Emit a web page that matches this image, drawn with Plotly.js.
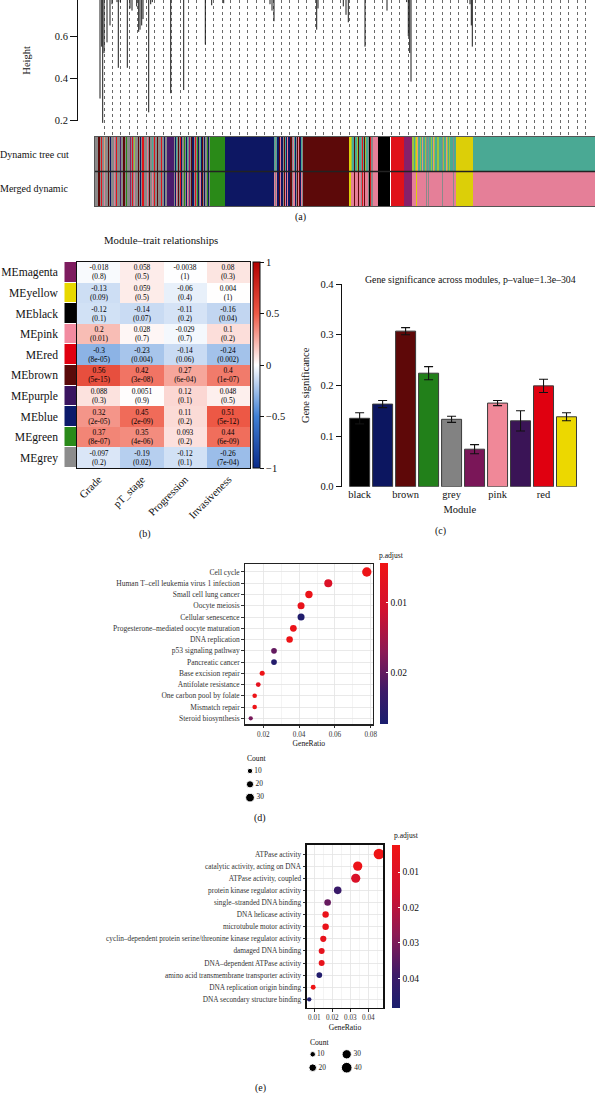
<!DOCTYPE html>
<html><head><meta charset="utf-8">
<script src="https://cdn.plot.ly/plotly-3.0.1.min.js"></script>
<style>html,body{margin:0;padding:0;background:#fff}#chart{width:595px;height:1093px}</style>
</head><body><div id="chart"></div>
<script>
// ================= DATA =================
// (a) dendrogram leaves (gene-order fraction) and merge heights visible in the crop
const dendroLeafPos = [0.010,0.0134,0.0154,0.018,0.024,0.030,0.034,0.044,0.0466,0.0506,0.0646,0.070,0.074,0.0834,0.0874,0.090,0.0934,0.096,0.1074,0.1114,0.1146,0.1514,0.1774,0.2206,0.2334,0.2574,0.350,0.354,0.358,0.4434,0.446,0.4966,0.502,0.5066,0.540,0.584,0.6234,0.6266,0.6294,0.632,0.750,0.7526,0.7546];
const dendroLeafHeight = [0.305,0.55,0.19,0.52,0.57,0.65,0.75,0.76,0.45,0.76,0.45,0.73,0.72,0.74,0.62,0.63,0.65,0.68,0.24,0.75,0.76,0.33,0.345,0.56,0.745,0.755,0.75,0.72,0.67,0.63,0.73,0.74,0.70,0.665,0.55,0.72,0.76,0.6,0.52,0.385,0.75,0.65,0.55];
const heightTicks = [0.2,0.4,0.6];
// module code letters per gene (dendrogram order), Dynamic tree cut
const moduleCodeNames = {g:'grey',b:'brown',r:'red',u:'blue',n:'green',p:'pink',m:'magenta',k:'black',y:'yellow',t:'turquoise',l:'purple',e:'greenyellow',s:'salmon',w:'white'};
const dynamicTreeCutRuns = [
  ['gggbbgrggsgggbgugggpgrggglggbbgngggmgrgegggbgugrrgggpgbggtgrggbgggrggugglllllllgutgbgruggngutgmgbuugrgnugtubguggnug',1],
  ['n',15],['u',49],
  ['tgtuubpuugbtupuubbgptugbpbutgbb',1],
  ['b',43],
  ['yyettbttebttgrtbettgkrgg',1],
  ['p',5],['k',12],['w',1],['r',13],['m',8],
  ['eeteysttetsttegtgttetsetteetttgettsetetttgtt',1],
  ['y',17],['t',122]
];
const mergedMap = {t:'p', e:'p', s:'p'};

// (b) module-trait relationships
const traits = ['Grade','pT_stage','Progression','Invasiveness'];
const moduleEigengenes = ['MEmagenta','MEyellow','MEblack','MEpink','MEred','MEbrown','MEpurple','MEblue','MEgreen','MEgrey'];
const meModules = ['magenta','yellow','black','pink','red','brown','purple','blue','green','grey'];
const corValues = [
  [-0.018, 0.058, -0.0038, 0.08],
  [-0.13, 0.059, -0.06, 0.004],
  [-0.12, -0.14, -0.11, -0.16],
  [0.2, 0.028, -0.029, 0.1],
  [-0.3, -0.23, -0.14, -0.24],
  [0.56, 0.42, 0.27, 0.4],
  [0.088, 0.0051, 0.12, 0.048],
  [0.32, 0.45, 0.11, 0.51],
  [0.37, 0.35, 0.093, 0.44],
  [-0.097, -0.19, -0.12, -0.26]
];
const corPValues = [
  ['0.8','0.5','1','0.3'],
  ['0.09','0.5','0.4','1'],
  ['0.1','0.07','0.2','0.04'],
  ['0.01','0.7','0.7','0.2'],
  ['8e-05','0.004','0.06','0.002'],
  ['5e-15','3e-08','6e-04','1e-07'],
  ['0.3','0.9','0.1','0.5'],
  ['2e-05','2e-09','0.2','5e-12'],
  ['8e-07','4e-06','0.2','6e-09'],
  ['0.2','0.02','0.1','7e-04']
];
const corTicks = [-1,-0.5,0,0.5,1];
const corTickText = ['\u22121','\u22120.5','0','0.5','1'];

// (c) gene significance
const gsModules = ['black','blue','brown','green','grey','magenta','pink','purple','red','yellow'];
const gsMean = [0.135,0.163,0.307,0.224,0.133,0.074,0.165,0.130,0.199,0.138];
const gsErr  = [0.011,0.007,0.007,0.013,0.006,0.009,0.005,0.020,0.013,0.008];
const gsTickModules = ['black','brown','grey','pink','red'];
const gsYTicks = [0,0.1,0.2,0.3,0.4];

// (d) KEGG
const keggTerms = ['Cell cycle','Human T\u2013cell leukemia virus 1 infection','Small cell lung cancer','Oocyte meiosis','Cellular senescence','Progesterone\u2013mediated oocyte maturation','DNA replication','p53 signaling pathway','Pancreatic cancer','Base excision repair','Antifolate resistance','One carbon pool by folate','Mismatch repair','Steroid biosynthesis'];
const keggGeneRatio = [0.0778,0.0563,0.0455,0.0411,0.0411,0.0368,0.0347,0.0260,0.0260,0.0194,0.0172,0.0152,0.0152,0.0130];
const keggCount = [35,25,21,19,19,17,16,12,12,9,8,7,7,6];
const keggPadj = [0.005,0.009,0.0055,0.006,0.0265,0.0055,0.005,0.020,0.026,0.005,0.007,0.005,0.005,0.0185];
const keggCountLegend = [10,20,30];
const keggPadjTicks = [0.01,0.02];

// (e) GO
const goTerms = ['ATPase activity','catalytic activity, acting on DNA','ATPase activity, coupled','protein kinase regulator activity','single\u2013stranded DNA binding','DNA helicase activity','microtubule motor activity','cyclin\u2013dependent protein serine/threonine kinase regulator activity','damaged DNA binding','DNA\u2013dependent ATPase activity','amino acid transmembrane transporter activity','DNA replication origin binding','DNA secondary structure binding'];
const goGeneRatio = [0.0459,0.0341,0.0330,0.0230,0.0174,0.0163,0.0163,0.0150,0.0141,0.0141,0.0128,0.0094,0.0072];
const goCount = [40,30,29,20,15,14,14,13,12,12,11,8,6];
const goPadj = [0.003,0.004,0.012,0.040,0.033,0.005,0.005,0.006,0.007,0.006,0.046,0.003,0.047];
const goCountLegend = [10,20,30,40];
const goPadjTicks = [0.01,0.02,0.03,0.04];

// ================= STYLE =================
const W = 595, H = 1093;
const px = v => v / W;
const py = v => 1 - v / H;
const FONT = 'Liberation Serif, Times New Roman, serif';
const moduleColors = {
  grey:'#8a8a8a', brown:'#5c0909', red:'#e0121a', blue:'#0d1763', green:'#2a8a18',
  pink:'#e57f98', magenta:'#87206a', black:'#000000', yellow:'#dccf08',
  turquoise:'#4aa994', purple:'#4a1c6c', greenyellow:'#9cc43e', salmon:'#e99a78', white:'#ffffff'
};
const meColors = {magenta:'#7d1c5f', yellow:'#e8d800', black:'#000000', pink:'#f28ba0', red:'#e00010',
  brown:'#5a0a0a', purple:'#3a1560', blue:'#0c1a6b', green:'#2a8a1a', grey:'#8c8c8c'};
const barColors = {black:'#000000', blue:'#0c1660', brown:'#5e0808', green:'#22801a', grey:'#828282',
  magenta:'#7a1658', pink:'#f08898', purple:'#3a1456', red:'#e00010', yellow:'#ecd800'};
const corScale = [[0,'#0b2b8a'],[0.25,'#3f80d4'],[0.5,'#ffffff'],[0.75,'#ee5a46'],[1,'#b30000']];
// p.adjust: low values red at the top of the bar, high values navy at the bottom
const padjScaleTopLow = [[0,'#1a1e6e'],[0.2,'#3c1a68'],[0.45,'#8c1a55'],[0.7,'#d01030'],[1,'#f01414']];
function discreteScale(cols){ const n = cols.length, s = []; cols.forEach((c,i)=>{ s.push([i/n,c]); s.push([(i+1)/n,c]); }); return s; }
const neg = v => -v;
const fmt2 = v => v.toFixed(2);

// ================= BUILD =================
const traces = [];

// (a) dendrogram
const dX = [], dY = [];
dendroLeafPos.forEach((p,i)=>{ dX.push(p,p,null); dY.push(dendroLeafHeight[i],0.9,null); });
traces.push({type:'scatter', mode:'lines', x:dX, y:dY, xaxis:'x', yaxis:'y', line:{color:'#1a1a1a', width:1}, hoverinfo:'skip', showlegend:false});
traces.push({type:'scatter', mode:'markers', x:[0.5], y:[0.5], xaxis:'x2', yaxis:'y2', marker:{opacity:0}, hoverinfo:'skip', showlegend:false});
const guideVals = []; for (let g = 0.018; g <= 1; g += 0.0169) guideVals.push(g);

// color bars
const codeList = Object.keys(moduleCodeNames);
const treeCutCodes = dynamicTreeCutRuns.map(([s,n]) => s.repeat(n)).join('').split('');
const mergedCodes = treeCutCodes.map(c => mergedMap[c] || c);
const idx = c => codeList.indexOf(c);
const cbScale = discreteScale(codeList.map(c => moduleColors[moduleCodeNames[c]]));
traces.push({type:'heatmap', z:[mergedCodes.map(idx), treeCutCodes.map(idx)], y:[0,1],
  x: treeCutCodes.map((c,i)=>i), colorscale:cbScale, zmin:-0.5, zmax:codeList.length-0.5,
  showscale:false, xaxis:'x3', yaxis:'y3', hoverinfo:'skip'});

// (b) heatmap
const cellText = corValues.map((row,r)=>row.map((v,c)=> String(v) + '<br>(' + corPValues[r][c] + ')'));
traces.push({type:'heatmap', z:corValues, x:traits, y:moduleEigengenes, text:cellText, texttemplate:'%{text}',
  textfont:{size:7.4, family:FONT, color:'#000'}, coloraxis:'coloraxis', xaxis:'x4', yaxis:'y4', hoverinfo:'skip'});
const meScale = discreteScale(meModules.map(m => meColors[m]));
traces.push({type:'heatmap', z:meModules.map((m,i)=>[i]), x:[0], y:moduleEigengenes, colorscale:meScale, ygap:1,
  zmin:-0.5, zmax:meModules.length-0.5, showscale:false, xaxis:'x5', yaxis:'y5', hoverinfo:'skip'});

// (c) bars
traces.push({type:'bar', x:gsModules, y:gsMean, width:0.87,
  marker:{color:gsModules.map(m=>barColors[m]), line:{color:'#3a3a3a', width:1}},
  error_y:{type:'data', array:gsErr, visible:true, color:'#111', thickness:1.1, width:4.5},
  xaxis:'x6', yaxis:'y6', hoverinfo:'skip', showlegend:false});

// (d) KEGG dots
const sizeD = c => Math.sqrt(4 + 2.4*c);
traces.push({type:'scatter', mode:'markers', x:keggGeneRatio, y:keggTerms,
  marker:{size:keggCount.map(sizeD), color:keggPadj.map(neg), coloraxis:'coloraxis2', opacity:1, line:{width:0}},
  xaxis:'x7', yaxis:'y7', hoverinfo:'skip', showlegend:false});
traces.push({type:'scatter', mode:'markers+text', x:keggCountLegend.map(()=>10), y:keggCountLegend.map((c,i)=>i),
  text:keggCountLegend.map(String), textposition:'middle right', textfont:{size:7.4, family:FONT, color:'#222'},
  marker:{size:keggCountLegend.map(sizeD), color:'#000', opacity:1}, xaxis:'x8', yaxis:'y8', hoverinfo:'skip', showlegend:false, cliponaxis:false});

// (e) GO dots
const sizeE = c => Math.sqrt(2 + 2.8*c);
traces.push({type:'scatter', mode:'markers', x:goGeneRatio, y:goTerms,
  marker:{size:goCount.map(sizeE), color:goPadj.map(neg), coloraxis:'coloraxis3', opacity:1, line:{width:0}},
  xaxis:'x9', yaxis:'y9', hoverinfo:'skip', showlegend:false});
traces.push({type:'scatter', mode:'markers+text', x:goCountLegend.map((c,i)=> i<2 ? 12.7 : 46.7), y:goCountLegend.map((c,i)=>i%2),
  text:goCountLegend.map(String), textposition:'middle right', textfont:{size:7.4, family:FONT, color:'#222'},
  marker:{size:goCountLegend.map(sizeE), color:'#000', opacity:1}, xaxis:'x10', yaxis:'y10', hoverinfo:'skip', showlegend:false, cliponaxis:false});

const hidden = {visible:true, showgrid:false, zeroline:false, showline:false, showticklabels:false, ticks:''};
const serif = (s, c) => ({family:FONT, size:s, color:c || '#111'});

const layout = {
  width:W, height:H, margin:{l:0,r:0,t:0,b:0,pad:0},
  paper_bgcolor:'#fff', plot_bgcolor:'rgba(0,0,0,0)', showlegend:false,
  font:{family:FONT, color:'#111'},
  // (a) dendrogram + guides
  xaxis:Object.assign({}, hidden, {domain:[px(78),1], range:[-0.034,1], anchor:'y',
     showgrid:true, tickmode:'array', tickvals:guideVals, gridcolor:'#444', griddash:'dot', gridwidth:0.8}),
  yaxis:Object.assign({}, hidden, {domain:[py(137),1], range:[0.1234,0.770], anchor:'x'}),
  xaxis2:Object.assign({}, hidden, {domain:[px(78),1], range:[-0.034,1], anchor:'y2'}),
  yaxis2:{domain:[py(120.7),1], range:[0.2,0.770], anchor:'x2', showline:true, linecolor:'#111', linewidth:1,
     ticks:'outside', ticklen:7, tickcolor:'#111', tickvals:heightTicks, tickformat:'.1f', showgrid:false, zeroline:false,
     tickfont:serif(10.5), title:{text:'Height', font:serif(10.5), standoff:22}},
  // color bars
  xaxis3:{domain:[px(95),1], range:[-0.5, treeCutCodes.length-0.5], anchor:'y3', showticklabels:false, ticks:'',
     showgrid:false, zeroline:false, showline:true, mirror:true, linecolor:'#555', linewidth:1},
  yaxis3:{domain:[py(206),py(137)], range:[-0.5,1.5], anchor:'x3', showticklabels:false, ticks:'', showgrid:false,
     zeroline:false, showline:true, mirror:true, linecolor:'#555', linewidth:1},
  // (b)
  xaxis4:{domain:[px(77),px(250)], anchor:'y4', type:'category', tickangle:-45, ticks:'', tickfont:serif(10.8),
     showline:true, mirror:true, linecolor:'#111', linewidth:1, showgrid:false, zeroline:false},
  yaxis4:{domain:[py(468),py(262)], anchor:'x4', type:'category', autorange:'reversed', showticklabels:false, ticks:'',
     showline:true, mirror:true, linecolor:'#111', linewidth:1, showgrid:false, zeroline:false},
  xaxis5:Object.assign({}, hidden, {domain:[px(64.3),px(76)], anchor:'y5'}),
  yaxis5:{domain:[py(468),py(262)], anchor:'x5', type:'category', autorange:'reversed', ticks:'outside', ticklen:3,
     tickcolor:'rgba(0,0,0,0)', showgrid:false, zeroline:false, showline:false, tickfont:serif(11.6)},
  coloraxis:{colorscale:corScale, cmin:-1, cmax:1, colorbar:{x:px(253), xanchor:'left', y:py(468), yanchor:'bottom',
     len:206/H, lenmode:'fraction', thickness:7, thicknessmode:'pixels', outlinewidth:1, outlinecolor:'#111',
     xpad:0, ypad:0, ticks:'outside', ticklen:4, tickcolor:'#111', tickmode:'array', tickvals:corTicks, ticktext:corTickText,
     tickfont:serif(10.5)}},
  // (c)
  xaxis6:{domain:[px(341.7),px(578)], anchor:'y6', type:'category', categoryarray:gsModules, categoryorder:'array',
     range:[-0.78,9.5], tickmode:'array', tickvals:gsTickModules, ticks:'', showline:false, showgrid:false, zeroline:false,
     tickfont:serif(10.5), title:{text:'Module', font:serif(10.5), standoff:6}},
  yaxis6:{domain:[py(486.7),py(284)], anchor:'x6', range:[0,0.4], tickmode:'array', tickvals:gsYTicks, tickformat:'.1f',
     showline:true, linecolor:'#111', linewidth:1, ticks:'outside', ticklen:5, tickcolor:'#111', showgrid:false, zeroline:false,
     tickfont:serif(10.5), title:{text:'Gene significance', font:serif(10.5), standoff:8}},
  // (d)
  xaxis7:{domain:[px(245),px(372.7)], anchor:'y7', range:[0.0098,0.0811], dtick:0.02, tick0:0, tickformat:'.2f',
     showgrid:true, gridcolor:'#e3e3e3', gridwidth:0.8, minor:{dtick:0.01, tick0:0, showgrid:true, gridcolor:'#ececec', gridwidth:0.6},
     showline:true, mirror:true, linecolor:'#222', linewidth:1.3, ticks:'outside', ticklen:2.5, tickcolor:'#333', zeroline:false,
     tickfont:serif(7.2,'#333'), title:{text:'GeneRatio', font:serif(7.6), standoff:3}},
  yaxis7:{domain:[py(724.3),py(564)], anchor:'x7', type:'category', categoryarray:keggTerms, categoryorder:'array',
     range:[13.53,-0.71], showgrid:true, gridcolor:'#e3e3e3', gridwidth:0.8, showline:true, mirror:true, linecolor:'#222', linewidth:1.3,
     ticks:'outside', ticklen:2.5, tickcolor:'#333', zeroline:false, tickfont:serif(7.5,'#333')},
  xaxis8:Object.assign({}, hidden, {domain:[px(240),px(300)], range:[0,60], anchor:'y8'}),
  yaxis8:Object.assign({}, hidden, {domain:[py(804.3),py(764.3)], range:[2.5,-0.5], anchor:'x8'}),
  coloraxis2:{colorscale:padjScaleTopLow, cmin:-0.0274, cmax:-0.00437, colorbar:{x:px(380), xanchor:'left', y:py(724.3), yanchor:'bottom',
     len:161/H, lenmode:'fraction', thickness:8.3, thicknessmode:'pixels', outlinewidth:0, xpad:0, ypad:0,
     ticks:'inside', ticklen:2, tickcolor:'#fff', tickmode:'array', tickvals:keggPadjTicks.map(neg), ticktext:keggPadjTicks.map(fmt2), tickfont:serif(9.5)}},
  // (e)
  xaxis9:{domain:[px(306.7),px(383.3)], anchor:'y9', range:[0.0058,0.0483], dtick:0.01, tick0:0, tickformat:'.2f',
     showgrid:true, gridcolor:'#e3e3e3', gridwidth:0.8, minor:{dtick:0.005, tick0:0, showgrid:true, gridcolor:'#ececec', gridwidth:0.6},
     showline:true, mirror:true, linecolor:'#111', linewidth:1.6, ticks:'outside', ticklen:2.5, tickcolor:'#333', zeroline:false,
     tickfont:serif(7.2,'#333'), title:{text:'GeneRatio', font:serif(7.6), standoff:3}},
  yaxis9:{domain:[py(1007.7),py(845)], anchor:'x9', type:'category', categoryarray:goTerms, categoryorder:'array',
     range:[12.69,-0.744], showgrid:true, gridcolor:'#e3e3e3', gridwidth:0.8, showline:true, mirror:true, linecolor:'#111', linewidth:1.6,
     ticks:'outside', ticklen:2.5, tickcolor:'#333', zeroline:false, tickfont:serif(7.3,'#333')},
  xaxis10:Object.assign({}, hidden, {domain:[px(300),px(370)], range:[0,70], anchor:'y10'}),
  yaxis10:Object.assign({}, hidden, {domain:[py(1074.4),py(1047.6)], range:[1.5,-0.5], anchor:'x10'}),
  coloraxis3:{colorscale:padjScaleTopLow, cmin:-0.0483, cmax:-0.00227, colorbar:{x:px(391.7), xanchor:'left', y:py(1007.7), yanchor:'bottom',
     len:162.7/H, lenmode:'fraction', thickness:7.6, thicknessmode:'pixels', outlinewidth:0, xpad:0, ypad:0,
     ticks:'inside', ticklen:2, tickcolor:'#fff', tickmode:'array', tickvals:goPadjTicks.map(neg), ticktext:goPadjTicks.map(fmt2), tickfont:serif(9.5)}},
  shapes:[
    {type:'line', xref:'x3 domain', yref:'y3', x0:0, x1:1, y0:0.5, y1:0.5, line:{color:'#222', width:1.3}}
  ],
  annotations:[
    {text:'Dynamic tree cut', x:px(34), y:py(154), xref:'paper', yref:'paper', showarrow:false, xanchor:'center', yanchor:'middle', font:serif(10)},
    {text:'Merged dynamic', x:px(34), y:py(188.5), xref:'paper', yref:'paper', showarrow:false, xanchor:'center', yanchor:'middle', font:serif(10)},
    {text:'(a)', x:px(300), y:py(217), xref:'paper', yref:'paper', showarrow:false, xanchor:'center', yanchor:'middle', font:serif(10)},
    {text:'Module\u2013trait relationships', x:px(161), y:py(240), xref:'paper', yref:'paper', showarrow:false, xanchor:'center', yanchor:'middle', font:serif(10.8)},
    {text:'(b)', x:px(145), y:py(534), xref:'paper', yref:'paper', showarrow:false, xanchor:'center', yanchor:'middle', font:serif(10)},
    {text:'Gene significance across modules, p\u2013value=1.3e\u2013304', x:px(470), y:py(279), xref:'paper', yref:'paper', showarrow:false, xanchor:'center', yanchor:'middle', font:serif(9.8)},
    {text:'(c)', x:px(440), y:py(531), xref:'paper', yref:'paper', showarrow:false, xanchor:'center', yanchor:'middle', font:serif(10)},
    {text:'p.adjust', x:px(377), y:py(555), xref:'paper', yref:'paper', showarrow:false, xanchor:'left', yanchor:'middle', font:serif(7.6)},
    {text:'Count', x:px(245), y:py(758.3), xref:'paper', yref:'paper', showarrow:false, xanchor:'left', yanchor:'middle', font:serif(7.6)},
    {text:'(d)', x:px(260), y:py(817.7), xref:'paper', yref:'paper', showarrow:false, xanchor:'center', yanchor:'middle', font:serif(10)},
    {text:'p.adjust', x:px(392), y:py(835.7), xref:'paper', yref:'paper', showarrow:false, xanchor:'left', yanchor:'middle', font:serif(7.6)},
    {text:'Count', x:px(308), y:py(1042.3), xref:'paper', yref:'paper', showarrow:false, xanchor:'left', yanchor:'middle', font:serif(7.6)},
    {text:'(e)', x:px(260), y:py(1087.7), xref:'paper', yref:'paper', showarrow:false, xanchor:'center', yanchor:'middle', font:serif(10)}
  ]
};

Plotly.newPlot('chart', traces, layout, {staticPlot:true, displayModeBar:false});
</script>
</body></html>
